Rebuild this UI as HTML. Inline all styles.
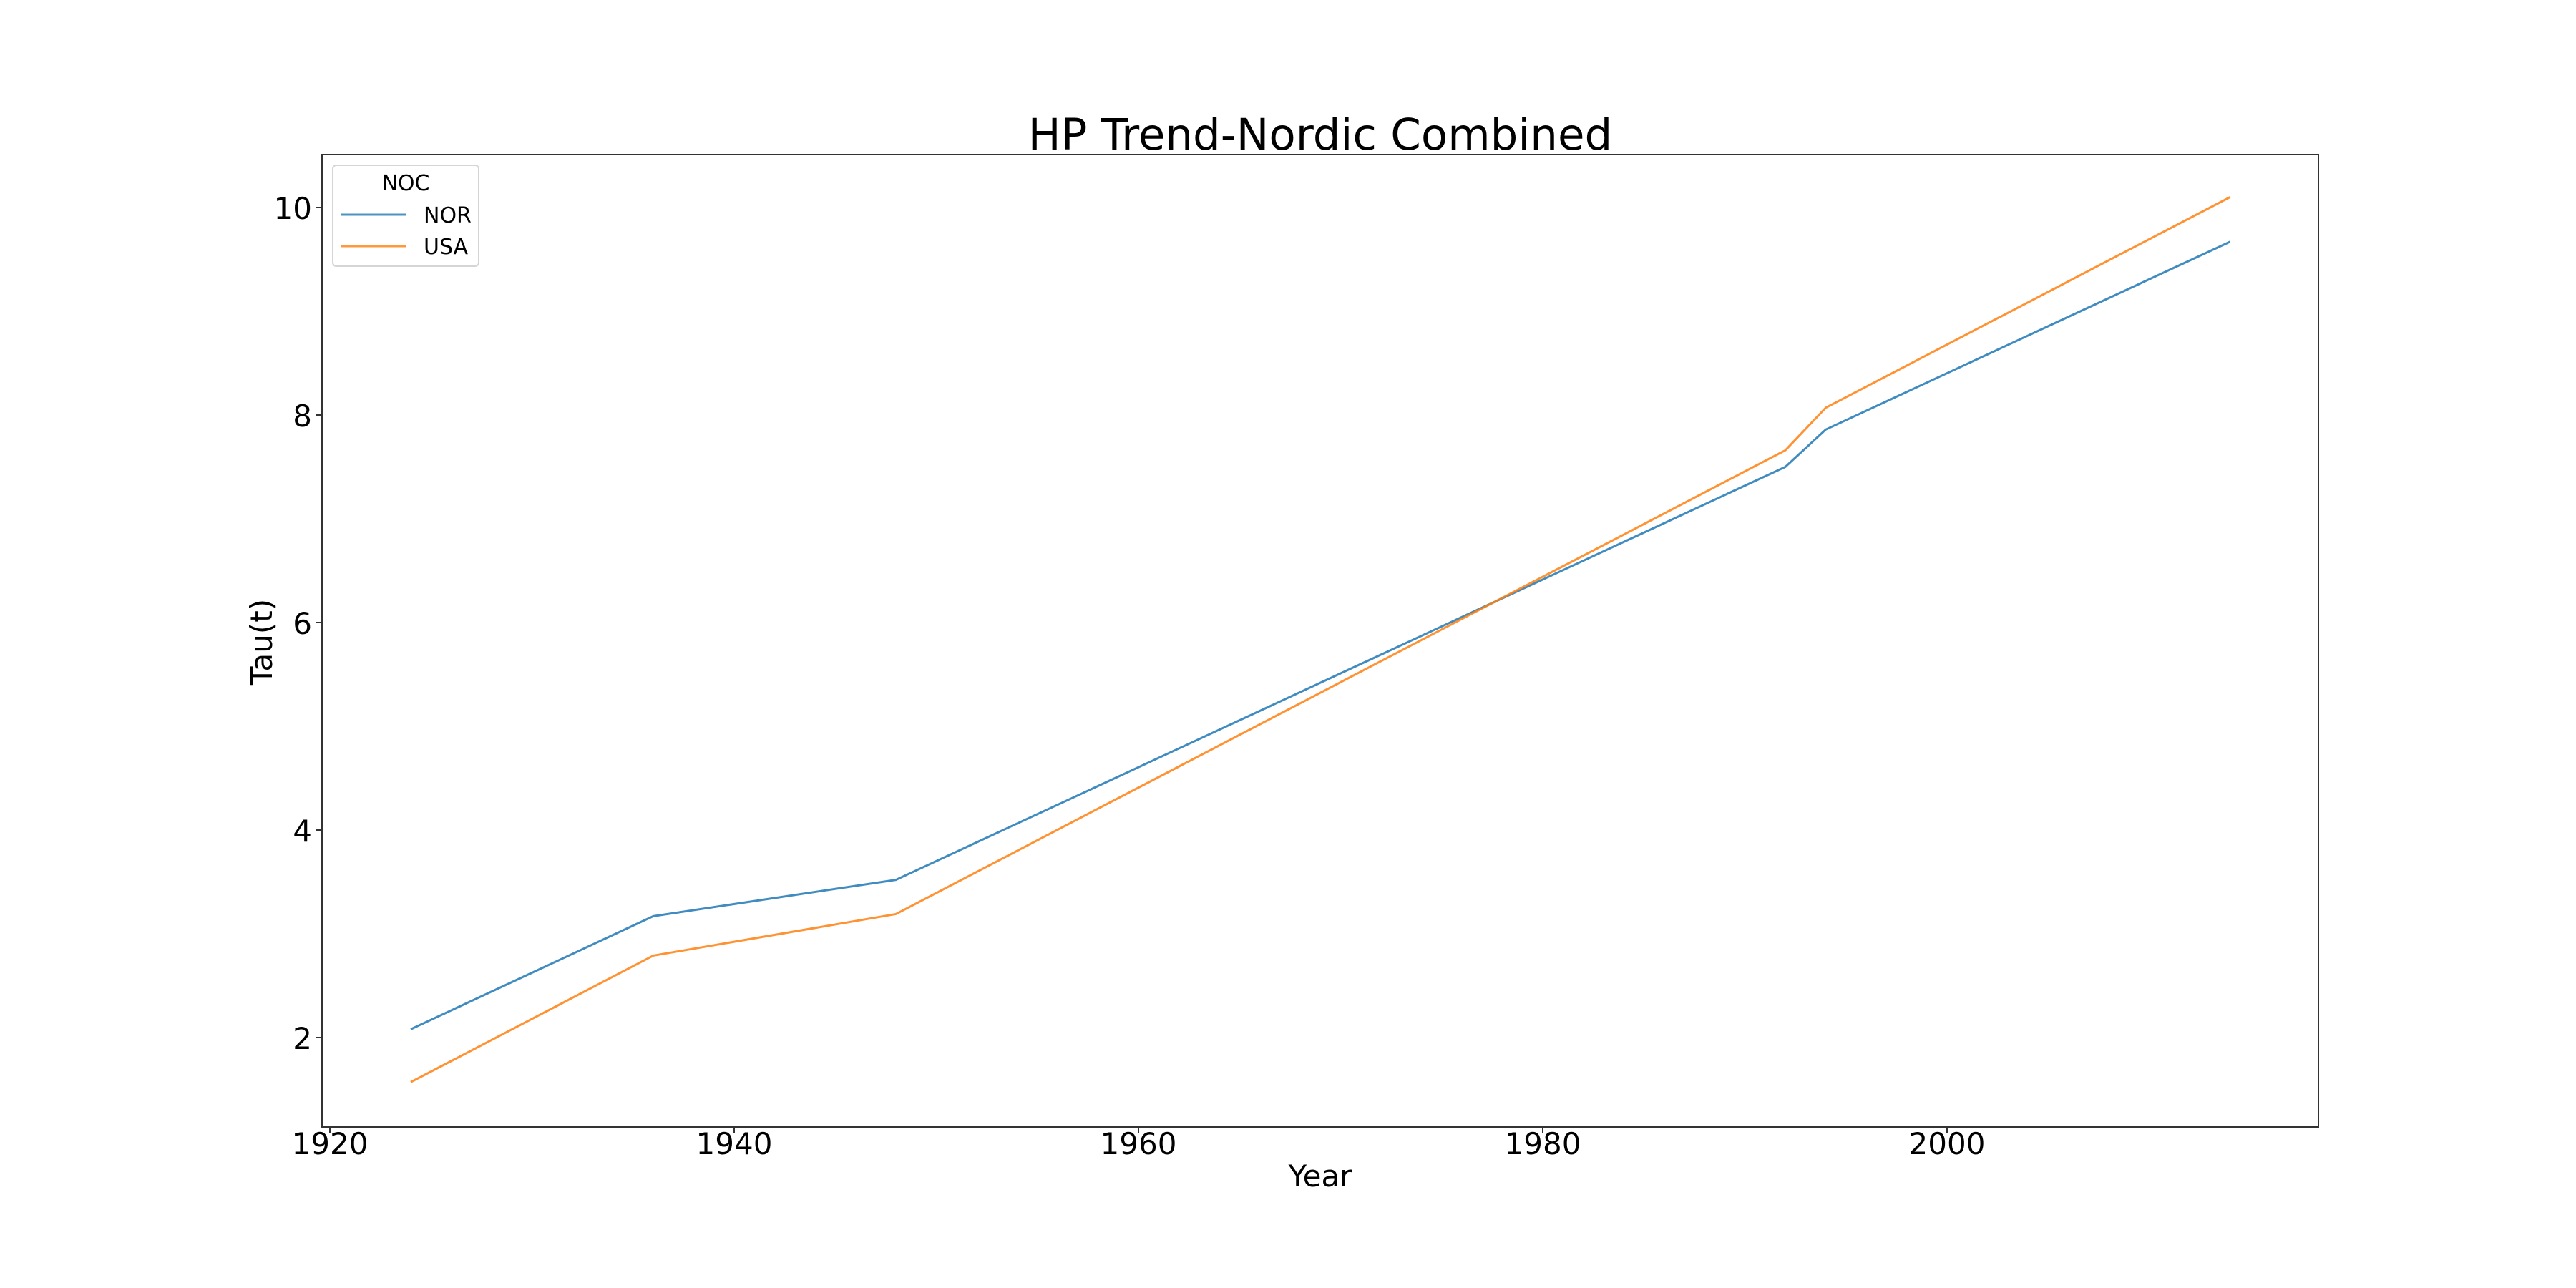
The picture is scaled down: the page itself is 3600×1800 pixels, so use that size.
<!DOCTYPE html>
<html><head><meta charset="utf-8"><style>
html,body{margin:0;padding:0;background:#fff;}
svg{display:block;font-family:"DejaVu Sans","Liberation Sans",sans-serif;}
</style></head><body>
<svg id="chart" width="3600" height="1800" viewBox="0 0 3600 1800">
<rect x="0" y="0" width="3600" height="1800" fill="#fff"/>
<text x="1845" y="209" font-size="61" text-anchor="middle">HP Trend-Nordic Combined</text>
<g id="plot"></g>
<text x="1845" y="1658" font-size="42" text-anchor="middle">Year</text>
<text x="0" y="0" font-size="42" text-anchor="middle" transform="translate(380,897) rotate(-90)">Tau(t)</text>
<g>
<rect x="465" y="231" width="204" height="141" rx="5" fill="#fff" stroke="#d5d5d5" stroke-width="2"/>
<text x="567" y="266" font-size="30" text-anchor="middle">NOC</text>
<line x1="477" y1="300" x2="568" y2="300" stroke="#1f77b4" stroke-opacity="0.8" stroke-width="3"/>
<text x="592" y="311" font-size="30">NOR</text>
<line x1="477" y1="344" x2="568" y2="344" stroke="#ff7f0e" stroke-opacity="0.8" stroke-width="3"/>
<text x="592" y="355" font-size="30">USA</text>
</g>
</svg>
<script>
const years = [1924, 1936, 1948, 1992, 1994, 2014];
const norValues = [2.08, 3.17, 3.52, 7.50, 7.86, 9.67];
const usaValues = [1.57, 2.79, 3.19, 7.66, 8.07, 10.10];
const xTicks = [1920, 1940, 1960, 1980, 2000];
const yTicks = [2, 4, 6, 8, 10];

const L = 450, R = 3240, T = 216, B = 1575;
function xScale(v){ return 461 + (v - 1920) * 28.25; }
function yScale(v){ return 1450 - (v - 2) * 145; }
const NS = 'http://www.w3.org/2000/svg';
const plot = document.getElementById('plot');

function mk(tag, attrs){ const e = document.createElementNS(NS, tag); for (const k in attrs) e.setAttribute(k, attrs[k]); return e; }

xTicks.forEach(t => {
  const x = xScale(t);
  const tick = mk('line', {x1:x, y1:B, x2:x, y2:B+8, stroke:'#333', 'stroke-width':2});
  
  
  plot.appendChild(tick);
  const lab = mk('text', {x:x, y:B+38, 'font-size':42, 'text-anchor':'middle'});
  lab.textContent = t;
  
  
  plot.appendChild(lab);
});
yTicks.forEach(t => {
  const y = yScale(t);
  const tick = mk('line', {x1:L-8, y1:y, x2:L, y2:y, stroke:'#333', 'stroke-width':2});
  
  
  plot.appendChild(tick);
  const lab = mk('text', {x:L-14, y:y+16, 'font-size':42, 'text-anchor':'end'});
  lab.textContent = t;
  
  
  plot.appendChild(lab);
});

function series(vals, color, name){
  const pts = years.map((yr, i) => xScale(yr) + ',' + yScale(vals[i])).join(' ');
  const pl = mk('polyline', {points:pts, fill:'none', stroke:color, 'stroke-opacity':0.85, 'stroke-width':3, 'stroke-linejoin':'round'});
  
  
  plot.appendChild(pl);
}
series(norValues, '#1f77b4', 'nor-line');
series(usaValues, '#ff7f0e', 'usa-line');

const frame = mk('rect', {x:L, y:T, width:R-L, height:B-T, fill:'none', stroke:'#333', 'stroke-width':2});


plot.appendChild(frame);
</script>
</body></html>
